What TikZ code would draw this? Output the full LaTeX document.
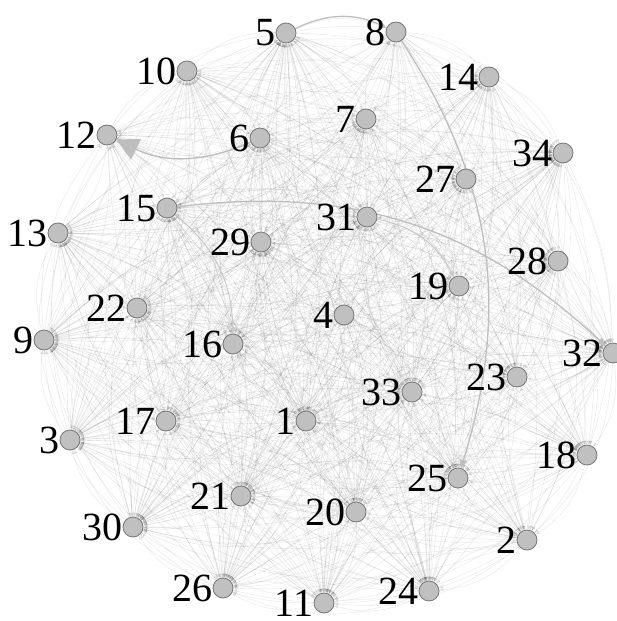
\documentclass[tikz,border=0pt]{standalone}
\usepackage{fontspec}
\setmainfont{Liberation Serif}
\usetikzlibrary{arrows.meta,backgrounds}
\definecolor{vtxfill}{RGB}{192,192,192}
\definecolor{vtxdraw}{RGB}{118,118,118}
\definecolor{linkgray}{RGB}{190,190,190}
\definecolor{linkmid}{RGB}{200,200,200}
\tikzset{
  vtx/.style={circle,draw=vtxdraw,fill=vtxfill,line width=0.8pt,
              minimum size=20pt,inner sep=0pt},
  lbl/.style={font=\fontsize{40}{40}\selectfont,inner sep=0pt,text=black},
  faint/.style={draw=black,opacity=0.09,line width=0.45pt,
                -{Triangle[length=4pt,width=3pt]}},
  linkbold/.style={draw=linkgray,line width=1.4pt,
                   -{Triangle[length=22pt,width=23pt]}},
  linkthick/.style={draw=linkgray,line width=1.3pt,
                    -{Triangle[length=8pt,width=7pt]}},
  linkmed/.style={draw=linkmid,line width=1pt,
                  -{Triangle[length=6pt,width=5pt]}},
}

\begin{document}
\begin{tikzpicture}[x=1pt,y=-1pt]
  \useasboundingbox (0,0) rectangle (617,621);
  \clip (0,0) rectangle (617,621);
  \foreach \n/\x/\y in {1/306/421,2/527/540,3/70/440,4/344/315,5/286/33,
      6/260/138,7/366/119,8/396/32,9/44/340,10/187/71,11/324/603,
      12/107/135,13/58/233,14/489/77,15/167/208,16/233/344,17/166/421,
      18/587/455,19/459/286,20/356/512,21/241/496,22/137/308,23/517/377,
      24/429/591,25/458/478,26/223/588,27/466/179,28/558/261,29/261/242,
      30/133/527,31/367/217,32/613/353,33/412/392,34/563/153}
    \node[vtx,label={[lbl,label distance=0pt]left:\n}] (v\n) at (\x,\y) {};

  \begin{scope}[on background layer]
    \foreach \i in {1,...,33}{
      \pgfmathtruncatemacro\nxt{\i+1}
      \foreach \j in {\nxt,...,34}{
        \draw[faint] (v\i) to[bend left=22] (v\j);
        \pgfmathtruncatemacro\flip{mod(\i*\j+\i,4)}
        \ifnum\flip>0
          \draw[faint] (v\j) to[bend left=22] (v\i);
        \fi
      }
    }
    \draw[linkmed]   (v15) to[bend left=25] (v16);
    \draw[linkmed]   (v31) to[bend left=25] (v19);
    \draw[linkthick] (v5)  to[bend left=25] (v8);
    \draw[linkthick] (v15) to[bend left=25] (v32);
    \draw[linkthick] (v8)  to[bend left=25] (v25);
    \draw[linkbold]  (v6)  to[bend left=25] (v12);
  \end{scope}
\end{tikzpicture}
\end{document}
